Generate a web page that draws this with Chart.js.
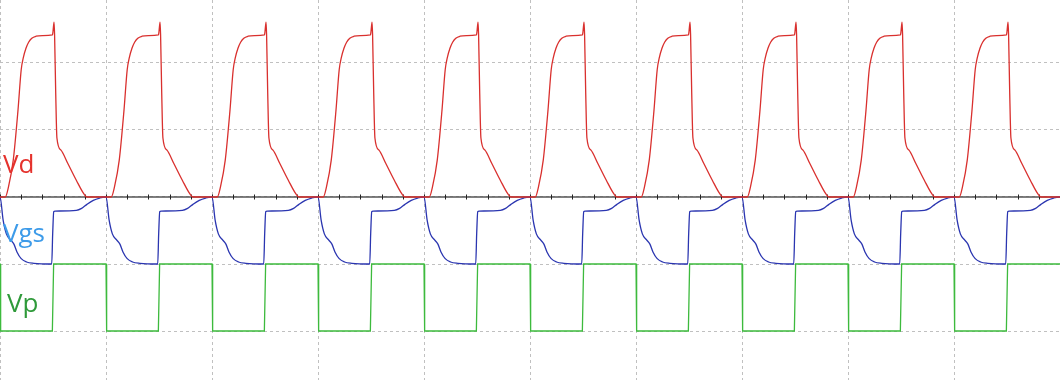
<!DOCTYPE html>
<html lang="en">
<head>
  <meta charset="UTF-8" />
  <title>Vd / Vgs / Vp</title>
  <script src="https://cdn.jsdelivr.net/npm/chart.js"></script>
  <style>
    body { margin: 0; background: #fff; }
    #wrap { width: 1060px; height: 380px; position: relative; }
  </style>
</head>
<body>
  <div id="wrap"><canvas id="scope"></canvas></div>

  <script>
  // time and voltage are both in screen divisions (one period = one division)
  const periodStarts = [-1, 0, 1, 2, 3, 4, 5, 6, 7, 8, 9, 10];

  // Vd, one period
  const vdTime  = [0, 0.05, 0.08, 0.125, 0.17, 0.2, 0.22, 0.245, 0.27, 0.30, 0.34, 0.40, 0.495, 0.50, 0.51, 0.515, 0.525, 0.537, 0.575, 0.64, 0.72, 0.79, 0.82];
  const vdVolts = [0, 0, 0.15, 0.55, 1.30, 1.90, 2.08, 2.22, 2.31, 2.37, 2.40, 2.41, 2.42, 2.47, 2.61, 2.42, 1.60, 0.88, 0.70, 0.50, 0.25, 0.05, 0];

  // Vgs, one period
  const vgsTime  = [0, 0.03, 0.06, 0.10, 0.13, 0.16, 0.20, 0.25, 0.32, 0.488, 0.497, 0.507, 0.52, 0.72, 0.77, 0.82, 0.88, 0.94, 0.99];
  const vgsVolts = [0, -0.35, -0.55, -0.64, -0.70, -0.82, -0.92, -0.97, -0.99, -1.0, -0.55, -0.22, -0.21, -0.20, -0.17, -0.11, -0.05, -0.015, 0];

  // Vp, one period
  const vpTime  = [0, 0.006, 0.494, 0.506];
  const vpVolts = [-1, -2, -2, -1];

  const traceNames = ['Vd', 'Vgs', 'Vp'];

  function buildTrace(times, volts) {
    const pts = [];
    periodStarts.forEach(p => {
      times.forEach((t, i) => pts.push({ x: p + t, y: volts[i] }));
    });
    return pts;
  }

  // center axis with small ticks, drawn under the traces
  const scopeAxis = {
    id: 'scopeAxis',
    beforeDatasetsDraw(chart) {
      const { ctx, scales: { x, y }, chartArea } = chart;
      const y0 = y.getPixelForValue(0);
      ctx.save();
      ctx.strokeStyle = '#555';
      ctx.lineWidth = 1.6;
      ctx.beginPath();
      ctx.moveTo(chartArea.left, y0);
      ctx.lineTo(chartArea.right, y0);
      ctx.stroke();
      ctx.strokeStyle = '#222';
      ctx.lineWidth = 1;
      for (let v = 0; v <= x.max + 0.001; v += 0.2) {
        const px = Math.round(x.getPixelForValue(v)) + 0.5;
        ctx.beginPath();
        ctx.moveTo(px, y0 - 2.5);
        ctx.lineTo(px, y0 + 2.5);
        ctx.stroke();
      }
      ctx.restore();
    }
  };

  // trace names on the left
  const nameColors = ['#e5322d', '#3d9be9', '#2f9a3a'];
  const nameSpots = [[3, 173], [3, 242], [7, 312]];
  const traceLabels = {
    id: 'traceLabels',
    afterDraw(chart) {
      const ctx = chart.ctx;
      ctx.save();
      ctx.font = '26px "Open Sans", "Noto Sans", sans-serif';
      ctx.textBaseline = 'alphabetic';
      traceNames.forEach((name, i) => {
        ctx.fillStyle = nameColors[i];
        ctx.fillText(name, nameSpots[i][0], nameSpots[i][1]);
      });
      ctx.restore();
    }
  };

  const gridStyle = {
    grid: { color: '#c0c0c0', lineWidth: 1, drawTicks: false },
    border: { display: false, dash: [3, 3] },
    ticks: { display: false, includeBounds: false, stepSize: 1 }
  };

  new Chart(document.getElementById('scope'), {
    type: 'line',
    data: {
      datasets: [
        {
          label: 'Vd',
          data: buildTrace(vdTime, vdVolts),
          borderColor: '#d9302e',
          borderWidth: 1.3,
          cubicInterpolationMode: 'monotone'
        },
        {
          label: 'Vgs',
          data: buildTrace(vgsTime, vgsVolts),
          borderColor: '#2a35b0',
          borderWidth: 1.3,
          cubicInterpolationMode: 'monotone'
        },
        {
          label: 'Vp',
          data: buildTrace(vpTime, vpVolts),
          borderColor: '#3dba3d',
          borderWidth: 1.3,
          tension: 0
        }
      ]
    },
    options: {
      responsive: true,
      maintainAspectRatio: false,
      animation: false,
      layout: { padding: 0 },
      elements: { point: { radius: 0 } },
      plugins: {
        legend: { display: false },
        tooltip: { enabled: false }
      },
      scales: {
        x: Object.assign({ type: 'linear', min: 0, max: 10 }, gridStyle),
        y: Object.assign({ type: 'linear', min: -183 / 67, max: 197 / 67 }, gridStyle)
      }
    },
    plugins: [scopeAxis, traceLabels]
  });
  </script>
</body>
</html>
